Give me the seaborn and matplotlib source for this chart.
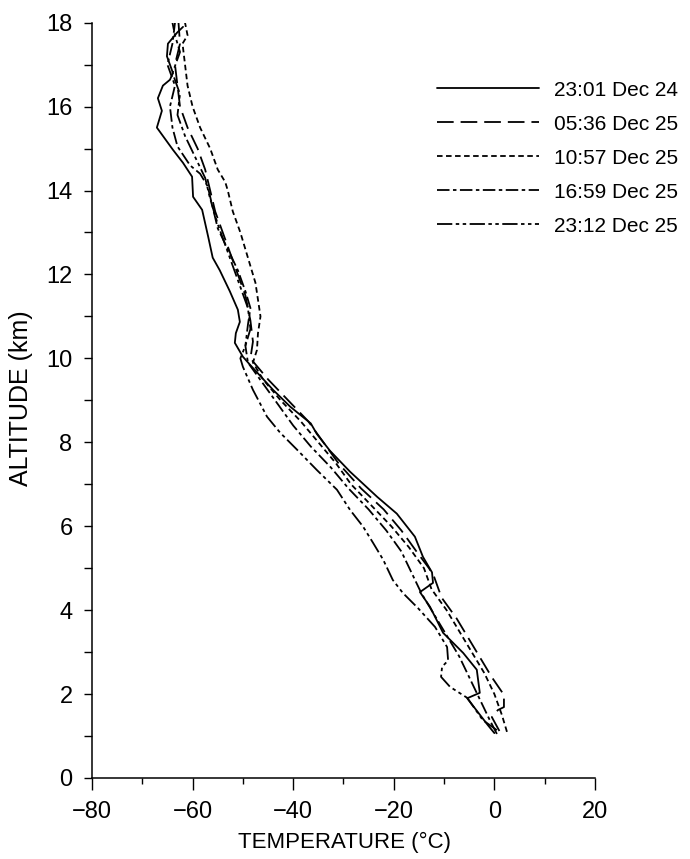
import matplotlib
matplotlib.use("Agg")
import matplotlib.pyplot as plt
from matplotlib.lines import Line2D
import seaborn as sns
import pandas as pd

# ---------------- data ----------------
labels = ["23:01 Dec 24", "05:36 Dec 25", "10:57 Dec 25", "16:59 Dec 25", "23:12 Dec 25"]

t_2301_24 = [-0.0, -1.3, -5.4, -2.9, -3.5, -6.2, -10.2, -12.8, -14.8, -12.2, -12.4, -14.2,
             -15.8, -19.4, -23.3, -28.7, -32.7, -35.3, -36.5, -40.6, -44.0, -48.6, -50.0,
             -51.6, -51.4, -50.6, -51.0, -52.6, -54.6, -56.0, -56.9, -58.1, -59.9, -60.1,
             -61.9, -63.9, -67.1, -66.1, -66.9, -65.9, -64.5, -63.9, -65.1, -64.9, -63.1, -61.9]
z_2301_24 = [1.07, 1.26, 1.90, 2.03, 2.58, 2.98, 3.46, 4.08, 4.43, 4.65, 4.90, 5.27,
             5.75, 6.30, 6.70, 7.30, 7.80, 8.20, 8.45, 8.85, 9.25, 9.85, 10.04,
             10.37, 10.60, 10.87, 11.16, 11.60, 12.10, 12.40, 12.90, 13.54, 13.85, 14.33,
             14.66, 14.97, 15.50, 15.90, 16.20, 16.50, 16.64, 16.80, 17.20, 17.50, 17.76, 17.90]

t_0536_25 = [1.0, -0.5, 0.7, 1.9, 1.9, -0.5, -2.5, -5.0, -7.5, -10.5, -12.0, -13.0, -15.5,
             -18.5, -22.0, -26.5, -31.0, -34.0, -37.0, -41.0, -45.0, -48.5, -48.0, -48.5,
             -49.5, -51.0, -52.5, -54.0, -55.5, -56.5, -57.5, -59.0, -61.0, -62.5, -63.0,
             -63.5, -62.5, -62.8]
z_0536_25 = [1.12, 1.45, 1.62, 1.69, 1.98, 2.40, 2.80, 3.30, 3.80, 4.30, 4.80, 5.00, 5.40,
             5.90, 6.40, 6.90, 7.50, 8.00, 8.50, 9.00, 9.50, 10.00, 10.40, 10.90,
             11.50, 12.00, 12.50, 13.00, 13.50, 14.00, 14.50, 15.00, 15.50, 16.00, 16.50,
             17.00, 17.50, 18.00]

t_1057_25 = [2.5, 1.5, 0.0, -2.0, -4.5, -7.0, -9.5, -12.5, -14.0, -17.0, -20.5, -24.5,
             -28.5, -31.5, -35.0, -38.5, -42.5, -46.0, -48.0, -47.2, -47.0, -46.5, -47.0,
             -47.5, -48.5, -49.5, -50.5, -52.0, -53.0, -53.5, -55.0, -56.5, -58.5, -60.0,
             -61.0, -61.5, -62.0, -61.0, -61.5]
z_1057_25 = [1.10, 1.50, 2.00, 2.50, 3.00, 3.50, 4.00, 4.50, 5.00, 5.50, 6.00, 6.50,
             7.00, 7.50, 8.00, 8.50, 9.00, 9.50, 9.90, 10.20, 10.60, 11.00, 11.40,
             11.80, 12.20, 12.60, 13.00, 13.50, 14.00, 14.20, 14.50, 15.00, 15.50, 16.00,
             16.50, 17.00, 17.50, 17.70, 18.00]

t_1659_25 = [0.5, -1.0, -3.0, -5.0, -7.0, -9.5, -12.0, -14.5, -16.5, -18.5, -21.5, -25.0,
             -29.0, -32.5, -36.5, -40.0, -43.0, -46.0, -49.0, -49.5, -49.0, -48.5, -49.5,
             -51.0, -53.0, -55.0, -56.0, -57.0, -58.5, -60.5, -63.0, -64.0, -64.5, -63.5,
             -65.0, -64.0, -63.5]
z_1659_25 = [1.05, 1.40, 1.90, 2.40, 2.90, 3.40, 3.90, 4.40, 4.90, 5.40, 5.90, 6.40,
             6.90, 7.40, 7.90, 8.40, 8.90, 9.40, 9.90, 10.30, 10.80, 11.20, 11.60,
             12.10, 12.60, 13.10, 13.60, 14.10, 14.40, 14.60, 15.05, 15.50, 16.00, 16.50,
             17.00, 17.50, 18.00]

t_2312_25 = [0.5, -2.3, -5.4, -8.8, -10.6, -10.4, -9.2, -9.4, -11.8, -15.2, -18.2, -20.2,
             -22.1, -24.1, -26.1, -28.7, -31.3, -35.3, -39.2, -42.6, -45.2, -48.0, -50.0,
             -50.5, -49.5, -48.5, -49.0, -50.5, -52.0, -53.5, -55.0, -56.5, -57.5, -59.5,
             -61.5, -63.0, -62.5, -64.0, -62.5, -63.5, -64.0]
z_2312_25 = [1.14, 1.38, 1.91, 2.17, 2.41, 2.65, 2.80, 3.12, 3.60, 4.05, 4.41, 4.72,
             5.20, 5.60, 5.99, 6.39, 6.87, 7.34, 7.82, 8.23, 8.61, 9.25, 9.80,
             10.00, 10.30, 10.70, 11.20, 11.70, 12.20, 12.70, 13.20, 13.80, 14.30, 14.80,
             15.30, 15.80, 16.30, 16.80, 17.30, 17.70, 18.00]

x_ticks = [-80, -60, -40, -20, 0, 20]
y_ticks = [0, 2, 4, 6, 8, 10, 12, 14, 16, 18]

series_t = [t_2301_24, t_0536_25, t_1057_25, t_1659_25, t_2312_25]
series_z = [z_2301_24, z_0536_25, z_1057_25, z_1659_25, z_2312_25]

frames = []
for lab, t, z in zip(labels, series_t, series_z):
    frames.append(pd.DataFrame({"temp": t, "alt": z, "sounding": lab}))
df = pd.concat(frames, ignore_index=True)

# ---------------- style ----------------
sns.set_style("ticks")
plt.rcParams["font.family"] = ["Liberation Sans", "DejaVu Sans"]
plt.rcParams["lines.scale_dashes"] = False
plt.rcParams["text.color"] = "black"
plt.rcParams["axes.labelcolor"] = "black"
plt.rcParams["xtick.color"] = "black"
plt.rcParams["ytick.color"] = "black"

dash_map = {
    labels[0]: "",
    labels[1]: (12, 5),
    labels[2]: (4, 2.5),
    labels[3]: (9, 2.5, 2.5, 2.5),
    labels[4]: (11, 2.5, 2.5, 2.5, 2.5, 2.5),
}
palette = {lab: "black" for lab in labels}

fig = plt.figure(figsize=(6.9, 8.59), dpi=100)
ax = fig.add_axes([0.1333, 0.0943, 0.8623 - 0.1333, 0.9736 - 0.0943])

sns.lineplot(data=df, x="temp", y="alt", hue="sounding", style="sounding",
             palette=palette, dashes=dash_map, sort=False, estimator=None,
             units="sounding", linewidth=1.3, legend=False, ax=ax)

ax.set_xlim(-80, 20)
ax.set_ylim(0, 18)
ax.set_xticks(x_ticks)
ax.set_xticks(list(range(-80, 21, 10)), minor=True)
ax.set_yticks(y_ticks)
ax.set_yticks(list(range(0, 19, 1)), minor=True)
ax.set_xticklabels([f"\u2212{abs(v)}" if v < 0 else str(v) for v in x_ticks])
ax.set_yticklabels([str(v) for v in y_ticks])

for s in ["top", "right"]:
    ax.spines[s].set_visible(False)
for s in ["left", "bottom"]:
    ax.spines[s].set_linewidth(1.1)
    ax.spines[s].set_color("black")

ax.tick_params(axis="x", which="major", length=8.5, width=1.0, pad=8,
               labelsize=17, colors="black", direction="out")
ax.tick_params(axis="x", which="minor", length=4.5, width=1.0, direction="out")
ax.tick_params(axis="y", which="both", length=6, width=1.0, pad=8,
               labelsize=17, colors="black", direction="out")

ax.set_xlabel("TEMPERATURE (\u00b0C)", fontsize=16, color="black")
ax.set_ylabel("ALTITUDE (km)", fontsize=18, color="black")
ax.xaxis.set_label_coords(0.503, -0.0715)
ax.yaxis.set_label_coords(-0.117, 0.503)

handles = []
for lab in labels:
    d = dash_map[lab]
    ls = "-" if d == "" else (0, d)
    handles.append(Line2D([0], [0], color="black", linewidth=1.3, linestyle=ls))

leg_x = (437 - 92) / 503.0
leg_y = (778 - 81) / 755.0
leg = ax.legend(handles, labels, loc="upper left", bbox_to_anchor=(leg_x, leg_y),
                frameon=False, fontsize=15, handlelength=4.9, handletextpad=0.72,
                labelspacing=0.72, borderpad=0, borderaxespad=0)
for txt in leg.get_texts():
    txt.set_color("black")

fig.savefig("out.png", dpi=100, facecolor="white")
